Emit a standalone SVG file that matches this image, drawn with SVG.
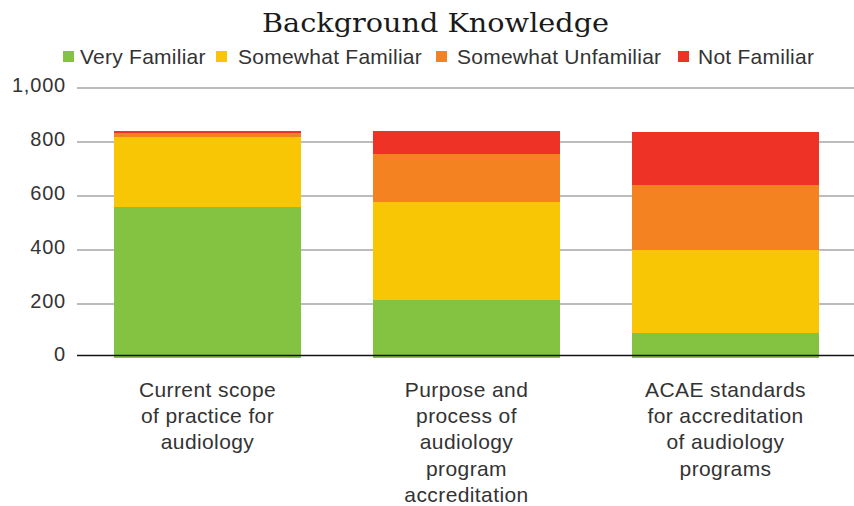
<svg xmlns="http://www.w3.org/2000/svg" width="854" height="506" viewBox="0 0 854 506">
<style>
.title{font-family:"DejaVu Serif","Liberation Serif",serif;font-size:26px;fill:#1a1a1a}
.leg{font-family:"Liberation Sans",Arial,sans-serif;font-size:21px;fill:#333;letter-spacing:0.25px}
.ytick{font-family:"Liberation Sans",Arial,sans-serif;font-size:20px;fill:#333;text-anchor:end;letter-spacing:0.8px}
.xl{font-family:"Liberation Sans",Arial,sans-serif;font-size:21px;fill:#333;text-anchor:middle;letter-spacing:0.4px}
.grid{stroke:#a6a6a6;stroke-width:1.4}
.vf{fill:#84c341}.sf{fill:#f8c605}.su{fill:#f58220}.nf{fill:#ef3226}
</style>
<rect width="854" height="506" fill="#fff"/>
<text class="title" x="435.5" y="32" text-anchor="middle" textLength="347" lengthAdjust="spacingAndGlyphs">Background Knowledge</text>
<g id="legend">
<rect class="vf" x="63" y="51" width="11" height="11"/>
<text class="leg" x="80" y="64">Very Familiar</text>
<rect class="sf" x="216" y="51" width="11" height="11"/>
<text class="leg" x="238" y="64">Somewhat Familiar</text>
<rect class="su" x="436" y="51" width="11" height="11"/>
<text class="leg" x="457" y="64">Somewhat Unfamiliar</text>
<rect class="nf" x="678" y="51" width="11" height="11"/>
<text class="leg" x="698" y="64">Not Familiar</text>
</g>
<g id="axis">
<line class="grid" x1="77" y1="88" x2="854" y2="88"/>
<line class="grid" x1="77" y1="142" x2="854" y2="142"/>
<line class="grid" x1="77" y1="196" x2="854" y2="196"/>
<line class="grid" x1="77" y1="250" x2="854" y2="250"/>
<line class="grid" x1="77" y1="304" x2="854" y2="304"/>
<text class="ytick" x="66" y="92">1,000</text>
<text class="ytick" x="66" y="146">800</text>
<text class="ytick" x="66" y="200">600</text>
<text class="ytick" x="66" y="254">400</text>
<text class="ytick" x="66" y="308">200</text>
<text class="ytick" x="66" y="361">0</text>
</g>
<g id="bar1">
<rect class="nf" x="114" y="131" width="187" height="2"/>
<rect class="su" x="114" y="133" width="187" height="4"/>
<rect class="sf" x="114" y="137" width="187" height="70"/>
<rect class="vf" x="114" y="207" width="187" height="151"/>
</g>
<g id="bar2">
<rect class="nf" x="373" y="131" width="187" height="23"/>
<rect class="su" x="373" y="154" width="187" height="48"/>
<rect class="sf" x="373" y="202" width="187" height="98"/>
<rect class="vf" x="373" y="300" width="187" height="58"/>
</g>
<g id="bar3">
<rect class="nf" x="632" y="132" width="187" height="53"/>
<rect class="su" x="632" y="185" width="187" height="65"/>
<rect class="sf" x="632" y="250" width="187" height="83"/>
<rect class="vf" x="632" y="333" width="187" height="25"/>
</g>
<line x1="77" y1="355.5" x2="854" y2="355.5" stroke="#111" stroke-width="1.6"/>
<g id="xlabels">
<text class="xl" x="207.5" y="397">Current scope</text>
<text class="xl" x="207.5" y="423">of practice for</text>
<text class="xl" x="207.5" y="449">audiology</text>
<text class="xl" x="466.5" y="397">Purpose and</text>
<text class="xl" x="466.5" y="423">process of</text>
<text class="xl" x="466.5" y="449">audiology</text>
<text class="xl" x="466.5" y="476">program</text>
<text class="xl" x="466.5" y="502">accreditation</text>
<text class="xl" x="725.5" y="397">ACAE standards</text>
<text class="xl" x="725.5" y="423">for accreditation</text>
<text class="xl" x="725.5" y="449">of audiology</text>
<text class="xl" x="725.5" y="476">programs</text>
</g>
</svg>
